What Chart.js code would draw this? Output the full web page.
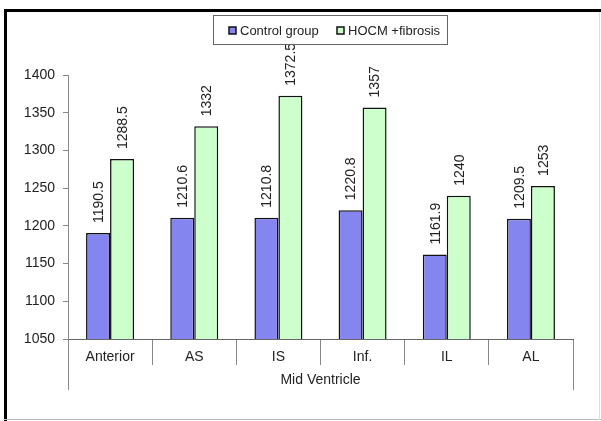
<!DOCTYPE html>
<html>
<head>
<meta charset="utf-8">
<script src="https://cdn.jsdelivr.net/npm/chart.js@4/dist/chart.umd.min.js"></script>
<style>
  html, body { margin: 0; padding: 0; background: #fff; }
  #wrap { width: 601px; height: 421px; }
</style>
</head>
<body>
<div id="wrap"><canvas id="chart" width="601" height="421"></canvas></div>
<script>
// data
const segments = ['Anterior', 'AS', 'IS', 'Inf.', 'IL', 'AL']
const controlGroup = [1190.5, 1210.6, 1210.8, 1220.8, 1161.9, 1209.5]
const hocmFibrosis = [1288.5, 1332, 1372.5, 1357, 1240, 1253]
const yTicks = [1050, 1100, 1150, 1200, 1250, 1300, 1350, 1400]
const groupTitle = 'Mid Ventricle'

const FONT = "'Liberation Sans', Arial, sans-serif"
const blue = '#8585f0'
const green = '#ccffcc'

// vertical value labels above each bar
const barLabels = {
    id: 'barLabels',
    afterDatasetsDraw(chart) {
        const ctx = chart.ctx
        ctx.save()
        ctx.font = '14px ' + FONT
        ctx.fillStyle = '#222'
        chart.data.datasets.forEach((ds, i) => {
            chart.getDatasetMeta(i).data.forEach((bar, j) => {
                ctx.save()
                ctx.translate(bar.x, bar.y - 10)
                ctx.rotate(-Math.PI / 2)
                ctx.textAlign = 'left'
                ctx.textBaseline = 'middle'
                ctx.fillText(String(ds.data[j]), 0, 1)
                ctx.restore()
            })
        })
        ctx.restore()
    }
}

// boxed legend at the top + outer frame + long end lines of the category axis
const decor = {
    id: 'decor',
    afterDraw(chart) {
        const ctx = chart.ctx
        const xs = chart.scales.x
        ctx.save()

        // end lines under the category axis
        ctx.strokeStyle = '#888'
        ctx.lineWidth = 1
        ctx.beginPath()
        ctx.moveTo(Math.round(xs.left) + 0.5, xs.top + 20)
        ctx.lineTo(Math.round(xs.left) + 0.5, 390)
        ctx.moveTo(Math.round(xs.right) + 0.5, xs.top + 20)
        ctx.lineTo(Math.round(xs.right) + 0.5, 390)
        ctx.stroke()

        // legend box
        const bx = 213, by = 15, bw = 234, bh = 29
        ctx.fillStyle = '#fff'
        ctx.fillRect(bx, by, bw, bh)
        ctx.strokeStyle = '#666'
        ctx.strokeRect(bx + 0.5, by + 0.5, bw, bh)
        ctx.font = '13px ' + FONT
        ctx.textBaseline = 'middle'
        ctx.textAlign = 'left'
        const items = [[229, 0], [337, 1]]
        items.forEach(([x, i]) => {
            const ds = chart.data.datasets[i]
            ctx.fillStyle = ds.backgroundColor
            ctx.fillRect(x, 27, 7, 7)
            ctx.strokeStyle = '#111'
            ctx.lineWidth = 1.5
            ctx.strokeRect(x, 27, 7, 7)
            ctx.fillStyle = '#222'
            ctx.fillText(ds.label, x + 11, 31)
        })

        // outer frame
        ctx.fillStyle = '#000'
        ctx.fillRect(4, 9, 597, 3)
        ctx.fillRect(4, 9, 3, 412)
        ctx.fillStyle = '#bbb'
        ctx.fillRect(4, 419, 597, 1)
        ctx.fillStyle = '#ddd'
        ctx.fillRect(599, 12, 1, 408)
        ctx.restore()
    }
}

new Chart(document.getElementById('chart'), {
    type: 'bar',
    data: {
        labels: segments,
        datasets: [
            {
                label: 'Control group',
                data: controlGroup,
                backgroundColor: blue,
                borderColor: '#111',
                borderWidth: 1.5,
                borderSkipped: false
            },
            {
                label: 'HOCM +fibrosis',
                data: hocmFibrosis,
                backgroundColor: green,
                borderColor: '#111',
                borderWidth: 1.5,
                borderSkipped: false
            }
        ]
    },
    options: {
        responsive: false,
        animation: false,
        layout: { padding: { left: 4, right: 28, top: 75, bottom: 0 } },
        datasets: { bar: { categoryPercentage: 0.57, barPercentage: 1 } },
        plugins: {
            legend: { display: false },
            tooltip: { enabled: false }
        },
        scales: {
            x: {
                offset: true,
                afterFit: (s) => { s.height = 82 },
                grid: {
                    offset: true,
                    drawOnChartArea: false,
                    tickLength: 26,
                    color: '#888'
                },
                border: { color: '#666', width: 1 },
                ticks: {
                    color: '#222',
                    padding: -16,
                    font: { family: FONT, size: 14 }
                },
                title: {
                    display: true,
                    text: groupTitle,
                    color: '#222',
                    padding: { top: 0, bottom: 32 },
                    font: { family: FONT, size: 14 }
                }
            },
            y: {
                min: yTicks[0],
                max: yTicks[yTicks.length - 1],
                afterFit: (s) => { s.width = 64 },
                afterBuildTicks: (s) => { s.ticks = yTicks.map(v => ({ value: v })) },
                grid: {
                    drawOnChartArea: false,
                    tickLength: 5,
                    color: '#888'
                },
                border: { color: '#888', width: 1 },
                ticks: {
                    color: '#222',
                    padding: 8,
                    font: { family: FONT, size: 14 },
                    callback: (v) => String(v)
                }
            }
        }
    },
    plugins: [barLabels, decor]
})
</script>
</body>
</html>
